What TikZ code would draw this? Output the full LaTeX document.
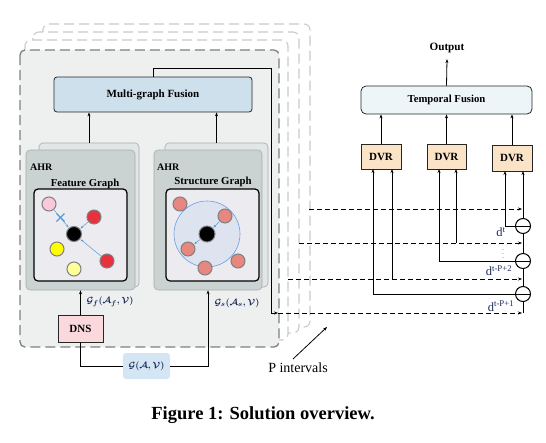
\documentclass[tikz,border=0pt]{standalone}
\usepackage{amsmath}
\usepackage{fontspec}
\setmainfont{Liberation Serif}
\usetikzlibrary{arrows.meta}
\definecolor{frameG}{HTML}{EEEFEF}
\definecolor{frameD}{HTML}{7F7F7F}
\definecolor{bgD}{HTML}{CACACA}
\definecolor{mgfC}{HTML}{CFE0ED}
\definecolor{ahrC}{HTML}{CBD2D2}
\definecolor{ahrB}{HTML}{E2E6E6}
\definecolor{ahrD}{HTML}{A5ADAD}
\definecolor{innerC}{HTML}{EBEBF0}
\definecolor{dnsC}{HTML}{FAD8DC}
\definecolor{gC}{HTML}{D4E6F4}
\definecolor{dvrC}{HTML}{FBE3C8}
\definecolor{tfC}{HTML}{EEF5F8}
\definecolor{navy}{HTML}{1C2A5A}
\definecolor{blueE}{HTML}{5B9BD5}
\definecolor{pinkN}{HTML}{F9C9D9}
\definecolor{redN}{HTML}{E8313F}
\definecolor{yelN}{HTML}{FFFF00}
\definecolor{lyelN}{HTML}{FFFF99}
\definecolor{salN}{HTML}{E8877F}
\definecolor{bigC}{HTML}{DDE4EF}
\definecolor{bigD}{HTML}{6D9EE3}
\newcommand{\fs}[1]{\fontsize{#1}{#1}\selectfont}
\begin{document}
\begin{tikzpicture}[x=1pt,y=-1pt,
  arr/.style={-{Stealth[length=4pt,width=3pt]}, line width=0.8pt},
  plain/.style={line width=0.8pt},
  darr/.style={-{Stealth[length=4pt,width=3pt]}, line width=0.9pt, dash pattern=on 5pt off 3pt},
  blarr/.style={-{Stealth[length=3pt,width=2.2pt]}, line width=0.5pt, blueE, shorten >=0.5pt, shorten <=0.5pt},
  bgframe/.style={draw=bgD, fill=white, line width=1.1pt, dash pattern=on 10pt off 5pt, rounded corners=6pt},
  mainframe/.style={draw=frameD, fill=frameG, line width=1.3pt, dash pattern=on 10pt off 5pt, rounded corners=5pt},
  box/.style={draw=black!85, line width=0.8pt, inner sep=0pt, align=center},
  ahrbox/.style={draw=ahrD, line width=0.6pt, rounded corners=4pt, inner sep=0pt},
  gnode/.style={circle, draw=black!50, line width=1pt, minimum size=14pt, inner sep=0pt},
  minusnode/.style={circle, draw=black, line width=1pt, fill=white, minimum size=15pt, inner sep=0pt},
  lbl/.style={inner sep=0pt, font=\bfseries\fs{10}}
]
\useasboundingbox (0,0) rectangle (546,442);

% stacked frames
\draw[bgframe] (43,24) rectangle (310,327);
\draw[bgframe] (33,32) rectangle (299,333);
\draw[bgframe] (25,40) rectangle (288,340);
\draw[mainframe] (20,50) rectangle (279,347);

% multi-graph fusion
\node[box, fill=mgfC, rounded corners=3pt, minimum width=198pt, minimum height=35pt, font=\bfseries\fs{11}] (mgf) at (153,94.5) {Multi-graph Fusion};

% AHR boxes
\node[ahrbox, fill=ahrB, minimum width=100pt, minimum height=144pt] (ahrFb) at (89,215) {};
\node[ahrbox, fill=ahrC, minimum width=109pt, minimum height=140pt] (ahrF) at (80.5,220) {};
\node[ahrbox, fill=ahrB, minimum width=103pt, minimum height=144pt] (ahrSb) at (216.5,215) {};
\node[ahrbox, fill=ahrC, minimum width=108pt, minimum height=140pt] (ahrS) at (208,220) {};
\node[lbl, anchor=west] (ahrFl) at (30,167) {AHR};
\node[lbl, anchor=west] (ahrSl) at (157,167) {AHR};
\node[lbl, font=\bfseries\fs{10.7}] (fgl) at (85,184) {Feature Graph};
\node[lbl, font=\bfseries\fs{10.8}] (sgl) at (213,182) {Structure Graph};
\node[draw=black, line width=1.2pt, fill=innerC, rounded corners=4pt, minimum width=93pt, minimum height=92pt, inner sep=0pt] (inF) at (80.5,235) {};
\node[draw=black, line width=1.2pt, fill=innerC, rounded corners=4pt, minimum width=93pt, minimum height=92pt, inner sep=0pt] (inS) at (212.5,235) {};

% feature graph
\node[gnode, fill=pinkN] (fp) at (49,204) {};
\node[gnode, fill=redN] (fr1) at (94,217) {};
\node[gnode, fill=black, minimum size=15pt] (fb) at (74,234) {};
\node[gnode, fill=yelN] (fy) at (57,249) {};
\node[gnode, fill=redN] (fr2) at (107,261) {};
\node[gnode, fill=lyelN] (fly) at (74,269) {};
\draw[blarr] (fp) -- (fb);
\draw[blarr] (fr1) -- (fb);
\draw[blarr] (fr2) -- (fb);
\coordinate (xc) at (60.5,217.5);
\draw[blueE, line width=1.3pt] ([shift={(-4,-4)}]xc) -- ([shift={(4,4)}]xc) ([shift={(-4,4)}]xc) -- ([shift={(4,-4)}]xc);

% structure graph
\node[circle, draw=bigD, fill=bigC, line width=0.6pt, minimum size=66pt, inner sep=0pt] (big) at (207,234) {};
\node[gnode, fill=salN] (s1) at (180,204) {};
\node[gnode, fill=salN] (s2) at (225,216) {};
\node[gnode, fill=black, minimum size=16pt] (sb) at (207,234) {};
\node[gnode, fill=salN] (s3) at (188,249) {};
\node[gnode, fill=salN] (s4) at (205,268) {};
\node[gnode, fill=salN] (s5) at (238,261) {};
\draw[blarr] (s2) -- (sb);
\draw[blarr] (sb) -- (s3);

% arrows to fusion
\draw[arr] (ahrFb.north) -- (ahrFb.north |- mgf.south);
\draw[arr] (ahrSb.north) -- (ahrSb.north |- mgf.south);

% DNS and G
\node[box, fill=dnsC, minimum width=45pt, minimum height=27pt, font=\bfseries\fs{11}] (dns) at (80.5,328.5) {DNS};
\node[fill=gC, rounded corners=3pt, minimum width=47pt, minimum height=26pt, inner sep=0pt, text=navy] (g) at (146.5,366) {\fs{9.5}$\boldsymbol{\mathcal{G}(\mathcal{A},\mathcal{V})}$};
\draw[arr] (dns.north) -- (ahrF.south);
\draw[plain] (g.west) -| (dns.south);
\draw[arr] (g.east) -| (ahrS.south);
\node[text=navy, inner sep=0pt] (gfl) at (110,302) {\fs{9.5}$\boldsymbol{\mathcal{G}_f(\mathcal{A}_f,\mathcal{V})}$};
\node[text=navy, inner sep=0pt] (gsl) at (237,303) {\fs{9.5}$\boldsymbol{\mathcal{G}_s(\mathcal{A}_s,\mathcal{V})}$};

% P intervals
\node[inner sep=0pt, font=\fs{14}] (pint) at (298,368) {P intervals};
\coordinate (pa) at (293,359);
\coordinate (pb) at (327,327);
\draw[arr] (pa) -- (pb);

% right side
\node[lbl, font=\bfseries\fs{11.2}] (out) at (447,48) {Output};
\node[box, fill=tfC, rounded corners=5pt, minimum width=171pt, minimum height=28pt, font=\bfseries\fs{10.7}] (tf) at (446.5,100) {Temporal Fusion};
\draw[arr] (tf.north) -- ([yshift=-6pt]out.south);
\node[box, fill=dvrC, minimum width=40pt, minimum height=25pt, font=\bfseries\fs{11}] (dvr1) at (381,156.5) {DVR};
\node[box, fill=dvrC, minimum width=39pt, minimum height=25pt, font=\bfseries\fs{11}] (dvr2) at (446.5,156.5) {DVR};
\node[box, fill=dvrC, minimum width=40pt, minimum height=26pt, font=\bfseries\fs{11}] (dvr3) at (512,158) {DVR};
\draw[arr] (dvr1.north) -- (dvr1.north |- tf.south);
\draw[arr] (dvr2.north) -- (dvr2.north |- tf.south);
\draw[arr] (dvr3.north) -- (dvr3.north |- tf.south);

% feedback from fusion to dashed line
\coordinate (c1) at (271,68);
\coordinate (c2) at (271,313);
\coordinate (c3) at (278,313);
\draw[arr] (mgf.north) |- (c1) -- (c2) -- (c3);

% dashed lines
\coordinate (vb) at (523,313);
\coordinate (e1) at (522,209);
\coordinate (e2) at (522,243);
\coordinate (e3) at (522,279);
\coordinate (e4) at (522,313);
\coordinate (s1d) at (309,209);
\coordinate (s2d) at (299,243);
\coordinate (s3d) at (288,279);
\draw[darr] (s1d) -- (e1);
\draw[darr] (s2d) -- (e2);
\draw[darr] (s3d) -- (e3);
\draw[darr] (c3) -- (e4);

% vertical through line
\coordinate (i3r) at (523,171);
\draw[arr] (vb) -- (i3r);

% minus circles
\node[minusnode] (m1) at (523,226) {};
\node[minusnode] (m2) at (523,261) {};
\node[minusnode] (m3) at (523,294) {};
\foreach \m in {m1,m2,m3} \draw[line width=1pt] (\m.west) -- (\m.east);

% inputs
\coordinate (i3l) at (505,171);
\coordinate (i2l) at (439,169);
\coordinate (i2r) at (456,169);
\coordinate (i1l) at (373,169);
\coordinate (i1r) at (392,169);
\coordinate (j2) at (456,243);
\coordinate (j1) at (392,279);
\draw[arr] (m1.west) -| (i3l);
\draw[arr] (m2.west) -| (i2l);
\draw[arr] (m3.west) -| (i1l);
\draw[arr] (j2) -- (i2r);
\draw[arr] (j1) -- (i1r);

% d labels
\node[inner sep=0pt, text=navy, font=\fs{12.5}] (d1) at (501,232) {d\textsuperscript{t}};
\node[inner sep=0pt] (dots) at (503,251) {\fs{6}$\vdots$};
\node[inner sep=0pt, text=navy, font=\fs{12.5}] (d2) at (499,270.5) {d\textsuperscript{t-P+2}};
\node[inner sep=0pt, text=navy, font=\fs{12.5}] (d3) at (501,306) {d\textsuperscript{t-P+1}};

% caption
\node[inner sep=0pt, font=\bfseries\fs{18.5}] (cap) at (263,415) {Figure 1: Solution overview.};
\end{tikzpicture}
\end{document}
